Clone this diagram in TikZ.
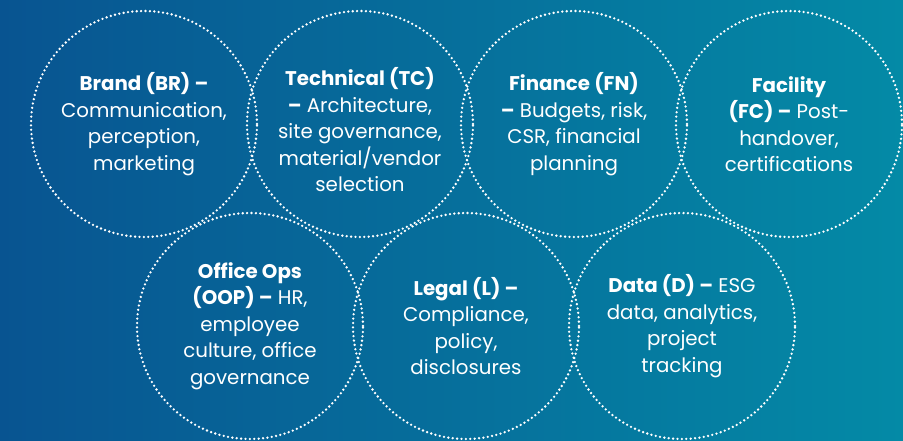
\documentclass[tikz,border=0pt]{standalone}
\usepackage{fontspec}
\setmainfont{Poppins}
\usetikzlibrary{positioning}
\definecolor{bgleft}{RGB}{8,84,145}
\definecolor{bgright}{RGB}{4,138,166}
\begin{document}
\begin{tikzpicture}[x=1pt,y=-1pt,
  ring/.style={circle, draw=white, line width=2.6pt, line cap=round,
    dash pattern=on 0pt off 4.4pt, minimum size=226pt, inner sep=0pt},
  label/.style={text=white, align=center, inner sep=0pt,
    font=\fontsize{19.8}{26.5}\selectfont}]
  % gradient backdrop
  \shade[left color=bgleft, right color=bgright] (0,0) rectangle (903,441);
  \useasboundingbox (0,0) rectangle (903,441);
  % top row of circles
  \node[ring] (br) at (144,124) {};
  \node[ring] (tc) at (360,124) {};
  \node[ring] (fn) at (574,124) {};
  \node[ring] (fc) at (789,124) {};
  % bottom row of circles
  \node[ring] (oop) at (250,326) {};
  \node[ring] (lg) at (466,326) {};
  \node[ring] (dt) at (682,326) {};
  % texts
  \node[label] (brt) at (br.center) {\textbf{Brand (BR) –}\\Communication,\\perception,\\marketing};
  \node[label] (tct) at ([yshift=-6pt]tc.center) {\textbf{Technical (TC)}\\\textbf{–} Architecture,\\site governance,\\material/vendor\\selection};
  \node[label] (fnt) at (fn.center) {\textbf{Finance (FN)}\\\textbf{–} Budgets, risk,\\CSR, financial\\planning};
  \node[label] (fct) at (fc.center) {\textbf{Facility}\\\textbf{(FC) –} Post-\\handover,\\certifications};
  \node[label] (oopt) at (oop.center) {\textbf{Office Ops}\\\textbf{(OOP) –} HR,\\employee\\culture, office\\governance};
  \node[label] (lgt) at (lg.center) {\textbf{Legal (L) –}\\Compliance,\\policy,\\disclosures};
  \node[label] (dtt) at (dt.center) {\textbf{Data (D) –} ESG\\data, analytics,\\project\\tracking};
\end{tikzpicture}
\end{document}
